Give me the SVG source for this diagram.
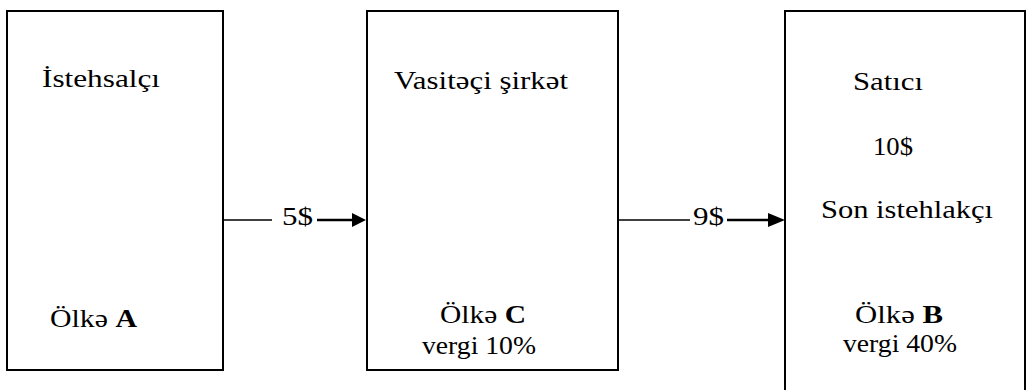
<svg xmlns="http://www.w3.org/2000/svg" width="1027" height="390" viewBox="0 0 1027 390">
<style>
.box{fill:#fff;stroke:#000;stroke-width:2}
.t{font-family:"Liberation Serif","Times New Roman",serif;font-size:26px;fill:#000}
.ln{stroke:#000;stroke-width:1.5;fill:none}
.lnb{stroke:#000;stroke-width:2.5;fill:none}
</style>
<rect width="1027" height="390" fill="#fff"/>
<g id="node-producer">
<rect class="box" x="7" y="11" width="216" height="359"/>
<text class="t" x="42" y="87" textLength="118" lengthAdjust="spacingAndGlyphs">İstehsalçı</text>
<text class="t" x="50" y="327" textLength="87" lengthAdjust="spacingAndGlyphs">Ölkə <tspan font-weight="bold">A</tspan></text>
</g>
<g id="node-intermediary">
<rect class="box" x="367" y="11" width="251" height="359"/>
<text class="t" x="394" y="89" textLength="174" lengthAdjust="spacingAndGlyphs">Vasitəçi şirkət</text>
<text class="t" x="440" y="323" textLength="86" lengthAdjust="spacingAndGlyphs">Ölkə <tspan font-weight="bold">C</tspan></text>
<text class="t" x="422" y="354" textLength="114" lengthAdjust="spacingAndGlyphs">vergi 10%</text>
</g>
<g id="node-seller">
<rect class="box" x="785" y="11" width="240" height="400"/>
<text class="t" x="853" y="90" textLength="70" lengthAdjust="spacingAndGlyphs">Satıcı</text>
<text class="t" x="873" y="155" textLength="40" lengthAdjust="spacingAndGlyphs">10$</text>
<text class="t" x="821" y="218" textLength="172" lengthAdjust="spacingAndGlyphs">Son istehlakçı</text>
<text class="t" x="855" y="323" textLength="88" lengthAdjust="spacingAndGlyphs">Ölkə <tspan font-weight="bold">B</tspan></text>
<text class="t" x="843" y="352" textLength="114" lengthAdjust="spacingAndGlyphs">vergi 40%</text>
</g>
<g id="connectors">
<line class="ln" x1="223" y1="220" x2="272" y2="220"/>
<text class="t" x="282" y="225" textLength="31" lengthAdjust="spacingAndGlyphs">5$</text>
<line class="lnb" x1="317" y1="220" x2="354" y2="220"/>
<polygon points="352,213 366,220 352,227" fill="#000"/>
<line class="ln" x1="618" y1="220" x2="690" y2="220"/>
<text class="t" x="693" y="225" textLength="31" lengthAdjust="spacingAndGlyphs">9$</text>
<line class="lnb" x1="727" y1="220" x2="770" y2="220"/>
<polygon points="768,213 785,220 768,227" fill="#000"/>
</g>
</svg>
